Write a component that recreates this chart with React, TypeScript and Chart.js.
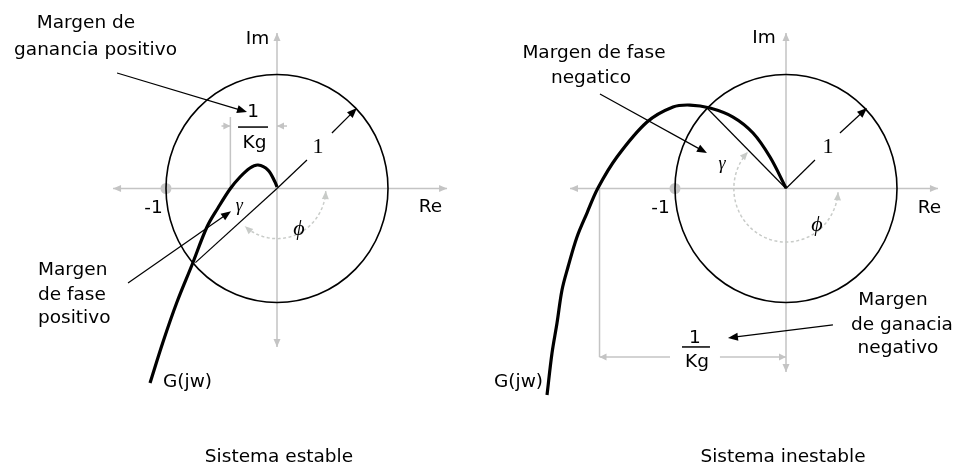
import React, { useEffect, useRef } from "react";
import { Chart, registerables } from "chart.js";

Chart.register(...registerables);

// ---------------- DATA (unit-circle coordinates: Re, Im) ----------------
// Stable system: G(jw) locus
const stableRe = [-1.144, -1.027, -0.901, -0.766, -0.631, -0.532, -0.423, -0.333, -0.243, -0.171, -0.081, -0.018, 0];
const stableIm = [-1.706, -1.346, -0.996, -0.671, -0.338, -0.171, -0.004, 0.101, 0.18, 0.206, 0.162, 0.057, 0.013];
// Unstable system: G(jw) locus
const unstableRe = [-2.153, -2.108, -2.063, -2.018, -1.964, -1.883, -1.793, -1.694, -1.523, -1.252, -1.018, -0.865, -0.685, -0.477, -0.297, -0.144, 0];
const unstableIm = [-1.811, -1.443, -1.18, -0.89, -0.689, -0.425, -0.215, 0.004, 0.276, 0.583, 0.715, 0.732, 0.706, 0.627, 0.487, 0.276, 0.004];
// Phase-margin point (where |G| = 1)
const stablePM = [-0.735, -0.65];
const unstablePM = [-0.712, 0.706];
// Real-axis crossing (1/Kg)
const stableCross = -0.42;
const unstableCross = -1.68;

const SANS = "'DejaVu Sans', Verdana, sans-serif";
const SERIF = "'Liberation Serif', 'DejaVu Serif', serif";
const F_MAIN = `18.5px ${SANS}`;
const F_ONE = `22px ${SERIF}`;
const F_GAMMA = `italic 18px ${SERIF}`;
const F_PHI = `italic 22px ${SERIF}`;

type Label = { t: string; x: number; y: number; align?: CanvasTextAlign; font?: string; base?: CanvasTextBaseline };
type Seg = [number, number, number, number];

const stableLabels: Label[] = [
  { t: "Margen de", x: -1.721, y: 1.408 },
  { t: "ganancia positivo", x: -1.635, y: 1.171 },
  { t: "Im", x: -0.176, y: 1.268 },
  { t: "-1", x: -1.113, y: -0.215 },
  { t: "Re", x: 1.383, y: -0.206 },
  { t: "1", x: 0.369, y: 0.311, font: F_ONE },
  { t: "1", x: -0.216, y: 0.627 },
  { t: "Kg", x: -0.203, y: 0.355 },
  { t: "γ", x: -0.34, y: -0.155, font: F_GAMMA, base: "middle" },
  { t: "ϕ", x: 0.198, y: -0.355, font: F_PHI, base: "middle" },
  { t: "Margen", x: -2.153, y: -0.759, align: "left" },
  { t: "de fase", x: -2.153, y: -0.978, align: "left" },
  { t: "positivo", x: -2.153, y: -1.18, align: "left" },
  { t: "G(jw)", x: -1.027, y: -1.741, align: "left" },
  { t: "Sistema estable", x: 0.018, y: -2.399 },
];

const unstableLabels: Label[] = [
  { t: "Margen de fase", x: -1.73, y: 1.145 },
  { t: "negatico", x: -1.757, y: 0.925 },
  { t: "Im", x: -0.198, y: 1.276 },
  { t: "-1", x: -1.131, y: -0.215 },
  { t: "Re", x: 1.293, y: -0.215 },
  { t: "1", x: 0.378, y: 0.311, font: F_ONE },
  { t: "γ", x: -0.577, y: 0.215, font: F_GAMMA, base: "middle" },
  { t: "ϕ", x: 0.279, y: -0.32, font: F_PHI, base: "middle" },
  { t: "1", x: -0.82, y: -1.355 },
  { t: "Kg", x: -0.802, y: -1.566 },
  { t: "Margen", x: 0.964, y: -1.022 },
  { t: "de ganacia", x: 1.045, y: -1.241 },
  { t: "negativo", x: 1.009, y: -1.443 },
  { t: "G(jw)", x: -2.189, y: -1.741, align: "right" },
  { t: "Sistema inestable", x: -0.027, y: -2.399 },
];

type Diagram = {
  re: number[];
  im: number[];
  pm: number[];
  xMin: number;
  xMax: number;
  axisX: [number, number];
  axisY: [number, number];
  arc: { r: number; from: number; to: number };
  grayLines: Seg[];
  grayArrows: Seg[];
  blackLines: Seg[];
  blackArrows: Seg[];
  bars: [number, number, number][];
  labels: Label[];
};

const Y_MIN = -2.443;
const Y_MAX = 1.6535;

const stableDiagram: Diagram = {
  re: stableRe,
  im: stableIm,
  pm: stablePM,
  xMin: -2.4955,
  xMax: 1.8108,
  axisX: [-1.477, 1.532],
  axisY: [-1.39, 1.364],
  arc: { r: 0.44, from: -3, to: -131 },
  grayLines: [[stableCross, 0.627, stableCross, 0]],
  grayArrows: [
    [-0.5, 0.548, stableCross, 0.548],
    [0.09, 0.548, 0, 0.548],
  ],
  blackLines: [[0, 0, 0.27, 0.25]],
  blackArrows: [
    [0.495, 0.487, 0.72, 0.706],
    [-1.441, 1.013, -0.27, 0.671],
    [-1.342, -0.829, -0.414, -0.2],
  ],
  bars: [[-0.351, -0.081, 0.539]],
  labels: stableLabels,
};

const unstableDiagram: Diagram = {
  re: unstableRe,
  im: unstableIm,
  pm: unstablePM,
  xMin: -2.7748,
  xMax: 1.5315,
  axisX: [-1.946, 1.369],
  axisY: [-1.61, 1.364],
  arc: { r: 0.47, from: 356, to: 137 },
  grayLines: [[unstableCross, 0, unstableCross, -1.478]],
  grayArrows: [
    [-1.045, -1.478, unstableCross, -1.478],
    [-0.595, -1.478, 0, -1.478],
  ],
  blackLines: [[0, 0, 0.261, 0.25]],
  blackArrows: [
    [0.486, 0.487, 0.73, 0.706],
    [0.423, -1.197, -0.523, -1.311],
    [-1.676, 0.829, -0.712, 0.311],
  ],
  bars: [[-0.937, -0.685, -1.39]],
  labels: unstableLabels,
};

const GRAY = "#c4c4c4";
const ARC_GRAY = "#c8cbc8";

function head(ctx: CanvasRenderingContext2D, x: number, y: number, ang: number, len: number, hw: number) {
  const c = Math.cos(ang);
  const s = Math.sin(ang);
  ctx.beginPath();
  ctx.moveTo(x, y);
  ctx.lineTo(x - len * c + hw * s, y - len * s - hw * c);
  ctx.lineTo(x - len * c - hw * s, y - len * s + hw * c);
  ctx.closePath();
  ctx.fill();
}

function makePlugin(d: Diagram) {
  const P = (chart: any) => {
    const sx = chart.scales.x;
    const sy = chart.scales.y;
    return {
      px: (v: number) => sx.getPixelForValue(v),
      py: (v: number) => sy.getPixelForValue(v),
    };
  };
  return {
    id: "nyquistDecor",
    beforeDatasetsDraw(chart: any) {
      const ctx: CanvasRenderingContext2D = chart.ctx;
      const { px, py } = P(chart);
      ctx.save();
      // axes
      ctx.strokeStyle = GRAY;
      ctx.fillStyle = GRAY;
      ctx.lineWidth = 1.5;
      ctx.beginPath();
      ctx.moveTo(px(d.axisX[0]), py(0));
      ctx.lineTo(px(d.axisX[1]), py(0));
      ctx.moveTo(px(0), py(d.axisY[0]));
      ctx.lineTo(px(0), py(d.axisY[1]));
      ctx.stroke();
      head(ctx, px(d.axisX[1]), py(0), 0, 8, 3.5);
      head(ctx, px(d.axisX[0]), py(0), Math.PI, 8, 3.5);
      head(ctx, px(0), py(d.axisY[1]), -Math.PI / 2, 8, 3.5);
      head(ctx, px(0), py(d.axisY[0]), Math.PI / 2, 8, 3.5);
      // gray guide lines
      for (const g of d.grayLines) {
        ctx.beginPath();
        ctx.moveTo(px(g[0]), py(g[1]));
        ctx.lineTo(px(g[2]), py(g[3]));
        ctx.stroke();
      }
      for (const g of d.grayArrows) {
        const x1 = px(g[0]), y1 = py(g[1]), x2 = px(g[2]), y2 = py(g[3]);
        ctx.beginPath();
        ctx.moveTo(x1, y1);
        ctx.lineTo(x2, y2);
        ctx.stroke();
        head(ctx, x2, y2, Math.atan2(y2 - y1, x2 - x1), 7, 3.5);
      }
      // -1 point
      ctx.beginPath();
      ctx.arc(px(-1), py(0), 5.5, 0, Math.PI * 2);
      ctx.fillStyle = "#c8c8c8";
      ctx.fill();
      // phase arc (dashed)
      const cx = px(0), cy = py(0);
      const rx = px(d.arc.r) - px(0);
      const ry = py(0) - py(d.arc.r);
      const a1 = (d.arc.from * Math.PI) / 180;
      const a2 = (d.arc.to * Math.PI) / 180;
      ctx.strokeStyle = ARC_GRAY;
      ctx.fillStyle = ARC_GRAY;
      ctx.lineWidth = 1.5;
      ctx.setLineDash([3, 2.5]);
      ctx.beginPath();
      const n = 80;
      for (let i = 0; i <= n; i++) {
        const a = a1 + ((a2 - a1) * i) / n;
        const X = cx + rx * Math.cos(a);
        const Y = cy - ry * Math.sin(a);
        if (i === 0) ctx.moveTo(X, Y);
        else ctx.lineTo(X, Y);
      }
      ctx.stroke();
      ctx.setLineDash([]);
      const sg = Math.sign(a2 - a1);
      {
        const X = cx + rx * Math.cos(a1), Y = cy - ry * Math.sin(a1);
        const dx = sg * rx * Math.sin(a1), dy = sg * ry * Math.cos(a1);
        head(ctx, X, Y, Math.atan2(dy, dx), 8, 3.5);
      }
      {
        const X = cx + rx * Math.cos(a2), Y = cy - ry * Math.sin(a2);
        const dx = -sg * rx * Math.sin(a2), dy = -sg * ry * Math.cos(a2);
        head(ctx, X, Y, Math.atan2(dy, dx), 8, 3.5);
      }
      // unit circle
      ctx.strokeStyle = "#000";
      ctx.lineWidth = 1.6;
      ctx.beginPath();
      ctx.ellipse(cx, cy, px(1) - px(0), py(0) - py(1), 0, 0, Math.PI * 2);
      ctx.stroke();
      ctx.restore();
    },
    afterDatasetsDraw(chart: any) {
      const ctx: CanvasRenderingContext2D = chart.ctx;
      const { px, py } = P(chart);
      ctx.save();
      ctx.strokeStyle = "#000";
      ctx.fillStyle = "#000";
      ctx.lineWidth = 1.2;
      for (const g of d.blackLines) {
        ctx.beginPath();
        ctx.moveTo(px(g[0]), py(g[1]));
        ctx.lineTo(px(g[2]), py(g[3]));
        ctx.stroke();
      }
      for (const g of d.blackArrows) {
        const x1 = px(g[0]), y1 = py(g[1]), x2 = px(g[2]), y2 = py(g[3]);
        const ang = Math.atan2(y2 - y1, x2 - x1);
        ctx.beginPath();
        ctx.moveTo(x1, y1);
        ctx.lineTo(x2 - 4 * Math.cos(ang), y2 - 4 * Math.sin(ang));
        ctx.stroke();
        head(ctx, x2, y2, ang, 10, 4);
      }
      ctx.lineWidth = 1.5;
      for (const b of d.bars) {
        ctx.beginPath();
        ctx.moveTo(px(b[0]), py(b[2]));
        ctx.lineTo(px(b[1]), py(b[2]));
        ctx.stroke();
      }
      for (const l of d.labels) {
        ctx.font = l.font || F_MAIN;
        ctx.textAlign = l.align || "center";
        ctx.textBaseline = l.base || "alphabetic";
        ctx.fillStyle = "#000";
        ctx.fillText(l.t, px(l.x), py(l.y));
      }
      ctx.restore();
    },
  };
}

function NyquistPanel({ d }: { d: Diagram }) {
  const ref = useRef<HTMLCanvasElement | null>(null);
  useEffect(() => {
    if (!ref.current) return;
    const chart = new Chart(ref.current, {
      type: "scatter",
      data: {
        datasets: [
          {
            label: "G(jw)",
            data: d.re.map((x, i) => ({ x, y: d.im[i] })),
            showLine: true,
            borderColor: "#000",
            borderWidth: 3.2,
            pointRadius: 0,
            tension: 0.35,
            fill: false,
          },
          {
            label: "fase",
            data: [
              { x: 0, y: 0 },
              { x: d.pm[0], y: d.pm[1] },
            ],
            showLine: true,
            borderColor: "#000",
            borderWidth: 1.2,
            pointRadius: 0,
            fill: false,
          },
        ],
      },
      options: {
        animation: false,
        responsive: false,
        maintainAspectRatio: false,
        events: [],
        layout: { padding: 0 },
        plugins: { legend: { display: false }, tooltip: { enabled: false } },
        scales: {
          x: { type: "linear", min: d.xMin, max: d.xMax, display: false },
          y: { type: "linear", min: Y_MIN, max: Y_MAX, display: false },
        },
      },
      plugins: [makePlugin(d) as any],
    } as any);
    return () => chart.destroy();
  }, [d]);
  return <canvas ref={ref} width={478} height={467} style={{ width: 478, height: 467, display: "block" }} />;
}

export default function App() {
  return (
    <div style={{ position: "absolute", left: 0, top: 0, width: 956, height: 467, display: "flex", background: "#fff" }}>
      <NyquistPanel d={stableDiagram} />
      <NyquistPanel d={unstableDiagram} />
    </div>
  );
}
